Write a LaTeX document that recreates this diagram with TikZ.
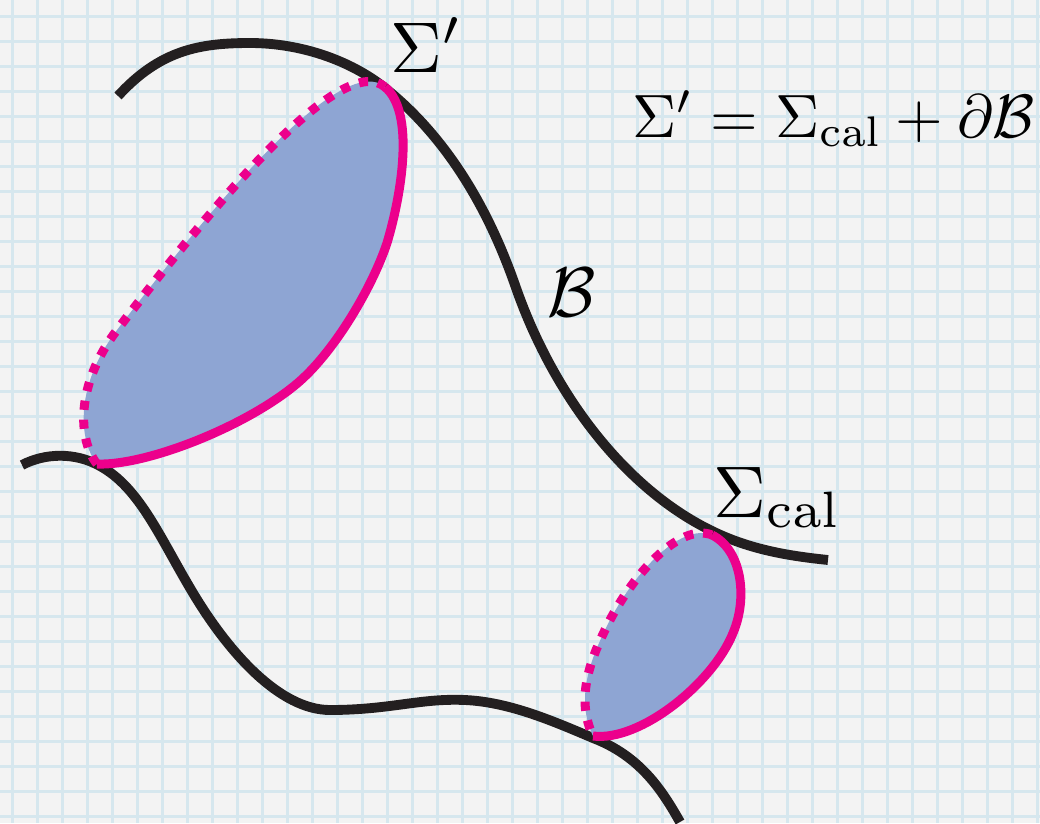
\documentclass[tikz,border=0pt]{standalone}
\definecolor{paper}{HTML}{F3F3F3}
\definecolor{gridblue}{HTML}{D6E7EE}
\definecolor{inkblack}{HTML}{231F20}
\definecolor{patchblue}{HTML}{8EA5D3}
\definecolor{rimpink}{HTML}{EC008C}
\begin{document}
\begin{tikzpicture}[x=0.025cm, y=-0.025cm,
  gridline/.style={draw=gridblue, line width=1.6pt},
  ink/.style={draw=inkblack, line width=7pt},
  patch/.style={fill=patchblue},
  rim/.style={draw=rimpink, line width=6.4pt},
  cut/.style={draw=rimpink, line width=6.4pt, dash pattern=on 6.5pt off 7pt},
  lbl/.style={inner sep=0pt, anchor=base west}]
  \useasboundingbox (0,0) rectangle (1040,823);
  \fill[paper] (0,0) rectangle (1040,823);
  \foreach \gx in {0,...,41}
    \draw[gridline] ({12.5+25*\gx},0) -- ({12.5+25*\gx},823);
  \foreach \gy in {0,...,32}
    \draw[gridline] (0,{16.5+25*\gy}) -- (1040,{16.5+25*\gy});

  \draw[ink] (118,96) .. controls (160,50) and (200,43) .. (250,43)
    .. controls (300,43) and (350,60) .. (385,88)
    .. controls (445,136) and (487,205) .. (515,285)
    .. controls (553,395) and (625,488) .. (710,530)
    .. controls (750,550) and (790,556) .. (828,560);
  \draw[ink] (22,465) .. controls (45,453) and (75,452) .. (100,466)
    .. controls (140,488) and (160,538) .. (193,593)
    .. controls (229,653) and (280,710) .. (330,710)
    .. controls (390,710) and (420,698) .. (465,700)
    .. controls (510,702) and (555,722) .. (593,738)
    .. controls (640,756) and (662,790) .. (680,822);

  \coordinate (bigbot) at (97,464);
  \coordinate (bigleft) at (117,330);
  \coordinate (bigtop) at (385,87);
  \coordinate (bigright) at (387,243);
  \coordinate (bigmid) at (300,381);
  \fill[patch] (bigbot) .. controls (78,440) and (75,385) .. (bigleft)
    .. controls (230,182) and (345,53) .. (bigtop)
    .. controls (415,112) and (402,193) .. (bigright)
    .. controls (372,288) and (335,350) .. (bigmid)
    .. controls (250,425) and (147,466) .. cycle;
  \draw[cut] (bigbot) .. controls (78,440) and (75,385) .. (bigleft)
    .. controls (230,182) and (345,53) .. (bigtop);
  \draw[rim] (bigtop) .. controls (415,112) and (402,193) .. (bigright)
    .. controls (372,288) and (335,350) .. (bigmid)
    .. controls (250,425) and (147,466) .. (bigbot);

  \coordinate (smalltop) at (712,535);
  \coordinate (smallleft) at (605,630);
  \coordinate (smallbot) at (593,736);
  \coordinate (smallright) at (733,633);
  \fill[patch] (smalltop) .. controls (680,522) and (631,575) .. (smallleft)
    .. controls (589,663) and (576,700) .. (smallbot)
    .. controls (640,742) and (713,683) .. (smallright)
    .. controls (748,598) and (742,550) .. cycle;
  \draw[cut] (smalltop) .. controls (680,522) and (631,575) .. (smallleft)
    .. controls (589,663) and (576,700) .. (smallbot);
  \draw[rim] (smallbot) .. controls (640,742) and (713,683) .. (smallright)
    .. controls (748,598) and (742,550) .. (smalltop);

  \node[lbl, scale=5.1] (sigprime) at (389,72) {$\Sigma'$};
  \node[lbl, scale=5.0] (bulk) at (546,316) {$\mathcal{B}$};
  \node[lbl, scale=5.2] (sigcal) at (712,517) {$\Sigma_{\mathrm{cal}}$};
  \node[lbl, scale=4.35] (relation) at (631,137) {$\Sigma' = \Sigma_{\mathrm{cal}} + \partial\mathcal{B}$};
\end{tikzpicture}
\end{document}
